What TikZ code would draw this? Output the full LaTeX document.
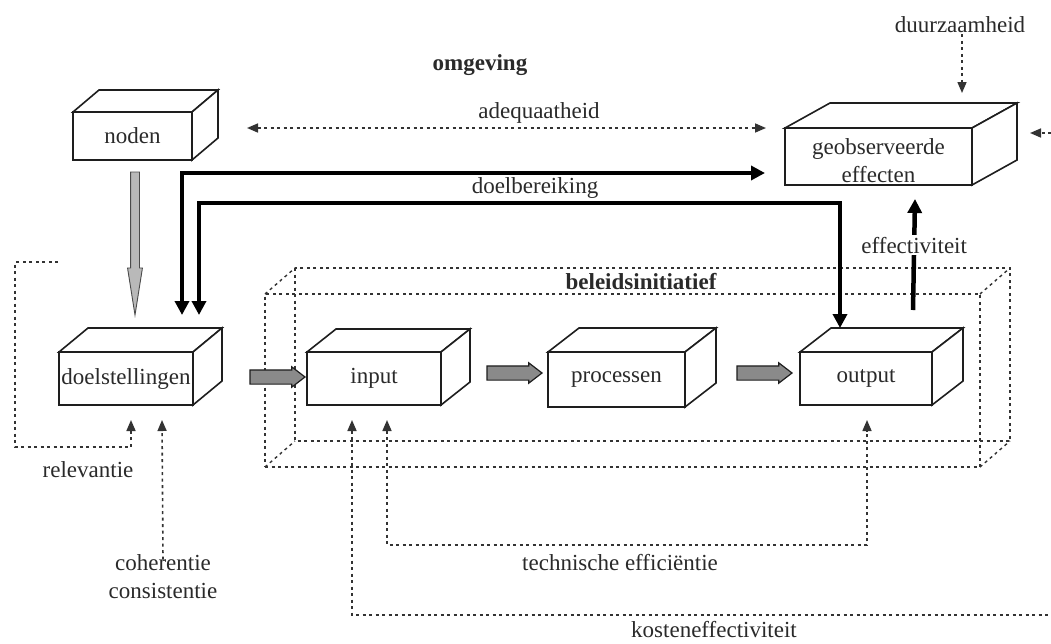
\documentclass[tikz,border=0pt]{standalone}
\usepackage{fontspec}
\setmainfont{Liberation Serif}
\usetikzlibrary{arrows.meta,shapes.arrows}

\definecolor{ink}{HTML}{1E1E1E}
\definecolor{txt}{HTML}{2A2A2A}
\definecolor{dots}{HTML}{333333}
\definecolor{blockgray}{HTML}{8A8A8A}

\tikzset{
  every node/.style={font=\fontsize{23}{28}\selectfont, text=txt},
  face/.style={draw=ink, line width=1.6pt, fill=white, inner sep=0pt, outer sep=0pt},
  frame/.style={draw=dots, line width=1.4pt, dash pattern=on 3pt off 3.5pt, inner sep=0pt, outer sep=0pt},
  dotline/.style={draw=dots, line width=1.6pt, dash pattern=on 3pt off 3.5pt},
  dtip/.tip={Triangle[length=11pt,width=9pt]},
  htip/.tip={Triangle[length=14pt,width=14pt]},
  heavy/.style={draw=black, line width=4.5pt},
  lbl/.style={inner sep=1pt},
  fat/.style={single arrow, draw=ink, line width=1.2pt, fill=blockgray,
    inner xsep=0pt, inner ysep=6.5pt, single arrow head extend=3pt,
    single arrow tip angle=75, minimum height=55pt, outer sep=0pt, anchor=tail},
  narrow/.style={single arrow, draw=ink!80, line width=0.9pt, fill=gray!55,
    inner xsep=4pt, inner ysep=4pt, single arrow head extend=3pt,
    single arrow tip angle=18, minimum height=143pt, shape border rotate=270,
    outer sep=0pt, anchor=tail}
}

% top and right faces of a box whose front face is the node #1
\newcommand\drawcuboid[3]{%
  \draw[face] (#1.north west) -- ([shift={(#2,#3)}]#1.north west)
    -- ([shift={(#2,#3)}]#1.north east) -- (#1.north east) -- cycle;
  \draw[face] (#1.north east) -- ([shift={(#2,#3)}]#1.north east)
    -- ([shift={(#2,#3)}]#1.south east) -- (#1.south east) -- cycle;
}

\begin{document}
\begin{tikzpicture}[x=1pt,y=-1pt]
\useasboundingbox (0,0) rectangle (1051,643);
\fill[white] (0,0) rectangle (1051,643);

% policy initiative: dashed wireframe box
\node[frame, minimum width=715pt, minimum height=173pt] (beleid) at (622.5,380.5) {};
\draw[frame] ([shift={(30,-26)}]beleid.north west) rectangle ([shift={(30,-26)}]beleid.south east);
\foreach \c in {north west,north east,south west,south east}
  \draw[frame] (beleid.\c) -- ([shift={(30,-26)}]beleid.\c);
\node[lbl, font=\fontsize{23}{28}\selectfont\bfseries] (beleidtitel) at (641,282) {beleidsinitiatief};

\node[lbl, font=\fontsize{23}{28}\selectfont\bfseries] (omgeving) at (480,65) {omgeving};

% boxes
\node[face, minimum width=119pt, minimum height=48pt] (noden) at (132.5,136) {noden};
\drawcuboid{noden}{26}{-22}
\node[face, minimum width=187pt, minimum height=57pt,
  label={[lbl, align=center, yshift=-4.5pt, name=geotext]center:geobserveerde\\effecten}] (geo) at (878.5,156.5) {};
\drawcuboid{geo}{45}{-25}
\node[face, minimum width=134pt, minimum height=53pt] (doel) at (126,378.5) {doelstellingen};
\drawcuboid{doel}{29}{-24}
\node[face, minimum width=134pt, minimum height=53pt] (input) at (374,378.5) {input};
\drawcuboid{input}{29}{-23}
\node[face, minimum width=137pt, minimum height=55pt] (proc) at (616.5,379.5) {processen};
\drawcuboid{proc}{31}{-24}
\node[face, minimum width=132pt, minimum height=53pt] (output) at (866,378.5) {output};
\drawcuboid{output}{31}{-24}

% grey block arrows along the chain
\node[narrow] (a0) at (135,172) {};
\node[fat] (a1) at (250,377) {};
\node[fat] (a2) at (487,373) {};
\node[fat] (a3) at (737,373) {};

% adequaatheid
\node[lbl] (adeq) at (539,113) {adequaatheid};
\draw[dotline, arrows={dtip-dtip}] ([shift={(55,-8)}]noden.east) -- ([shift={(-19,-28.5)}]geo.west);
\coordinate (rim) at (1051,133);
\draw[dotline, -dtip] (rim) -- ([shift={(58,-23.5)}]geo.east);

% duurzaamheid
\node[lbl] (duurz) at (960,25) {duurzaamheid};
\draw[dotline, -dtip] ([xshift=2pt]duurz.south) -- ([shift={(83.5,-35)}]geo.north);

% doelbereiking
\draw[heavy, arrows={htip-htip}] ([shift={(56,-37)}]doel.north) |- ([shift={(-20,16.5)}]geo.west);
\draw[heavy, arrows={htip-htip}] ([shift={(73,-37)}]doel.north) |- ([shift={(-26,-149)}]output.north)
  -- ([shift={(-26,-24)}]output.north);
\node[lbl] (doelber) at (535,188) {doelbereiking};

% effectiviteit
\draw[heavy, -htip] ([shift={(47,-42)}]output.north) --
  node[pos=0.585, fill=white, inner sep=2pt] (effect) {effectiviteit} ([shift={(36.5,14)}]geo.south);

% relevantie
\coordinate (relstart) at (58,262);
\draw[dotline, -dtip] (relstart) -| (15,447) -| ([shift={(5,15)}]doel.south);
\node[lbl] (relev) at (88,470) {relevantie};

% coherentie / consistentie
\node[lbl, align=center] (coh) at (163,577) {coherentie\\consistentie};
\draw[dotline, -dtip] ([yshift=-6pt]coh.north) -- ([shift={(36,15)}]doel.south);

% technische efficientie
\draw[dotline, arrows={dtip-dtip}] ([shift={(13,15)}]input.south) |- (867,545) -- ([shift={(1,15)}]output.south);
\node[lbl] (techn) at (620,563) {technische efficiëntie};

% kosteneffectiviteit
\coordinate (kostend) at (1051,615);
\draw[dotline, dtip-] ([shift={(-22,15)}]input.south) |- (kostend);
\node[lbl] (kosten) at (714,630) {kosteneffectiviteit};
\end{tikzpicture}
\end{document}
